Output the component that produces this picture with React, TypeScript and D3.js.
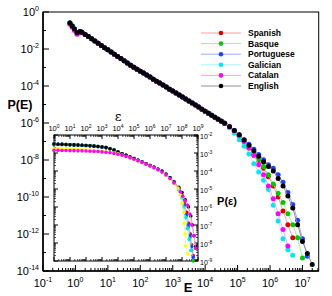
import React from "react";
import * as d3 from "d3";

// main panel: log10(E) bins and log10(P(E)) per language
const headE = [-0.17, -0.1, -0.03, 0.05, 0.14];
const bodyE = [0.2, 0.3, 0.4, 0.5, 0.6, 0.7, 0.8, 0.9, 1.0, 1.1, 1.2, 1.3, 1.4, 1.5, 1.6, 1.7, 1.8, 1.9, 2.0, 2.1, 2.2, 2.3, 2.4, 2.5, 2.6, 2.7, 2.8, 2.9, 3.0, 3.1, 3.2, 3.3, 3.4, 3.5, 3.6, 3.7, 3.8, 3.9, 4.0, 4.1, 4.2, 4.3, 4.4, 4.5, 4.6];
const tailE = [4.75, 4.9, 5.05, 5.2, 5.35, 5.5, 5.65, 5.8, 5.95, 6.1, 6.25, 6.4, 6.55, 6.7, 6.85, 7.0, 7.15, 7.3];

const headP = [-0.6, -0.76, -0.92, -1.12, -1.06];
const catalanHeadP = [-0.66, -0.83, -1.0, -1.2, -1.13];
const bodyP = [-1.1, -1.21, -1.33, -1.45, -1.57, -1.69, -1.81, -1.93, -2.04, -2.16, -2.28, -2.4, -2.52, -2.64, -2.76, -2.88, -2.98, -3.09, -3.2, -3.3, -3.41, -3.52, -3.63, -3.74, -3.84, -3.95, -4.06, -4.17, -4.27, -4.38, -4.49, -4.6, -4.7, -4.81, -4.92, -5.03, -5.14, -5.25, -5.36, -5.47, -5.58, -5.69, -5.8, -5.91, -6.02];

const spanishTail = [-6.22, -6.46, -6.72, -7.02, -7.35, -7.68, -8.05, -8.45, -8.9, -9.4, -10.0, -10.75, -11.5, -12.2];
const basqueTail = [-6.22, -6.45, -6.7, -7.0, -7.3, -7.6, -7.95, -8.35, -8.8, -9.3, -9.8, -10.3, -10.9, -11.5, -12.2, -13.3];
const portugueseTail = [-6.2, -6.4, -6.63, -6.9, -7.15, -7.42, -7.7, -7.98, -8.25, -8.45, -8.8, -9.2, -9.75, -10.4, -11.25, -12.25, -13.2];
const galicianTail = [-6.25, -6.55, -6.9, -7.25, -7.68, -8.2, -8.65, -9.1, -9.6, -10.45, -11.3, -12.25, -12.85, -13.15];
const catalanTail = [-6.18, -6.4, -6.68, -7.0, -7.35, -7.75, -8.25, -8.8, -9.4, -10.1, -10.9, -11.75, -12.65];
const englishTail = [-6.2, -6.4, -6.64, -6.92, -7.2, -7.5, -7.8, -8.1, -8.35, -8.6, -9.0, -9.4, -9.95, -10.6, -11.5, -12.4, -13.05, -13.65];

const languages = ["Spanish", "Basque", "Portuguese", "Galician", "Catalan", "English"];
const colors = ["#e00000", "#00c800", "#2040ff", "#00e8f0", "#ff00ff", "#000000"];
const lineColors = ["#f4a0a0", "#9ef09e", "#a0a8ff", "#a0f8ff", "#ffa0ff", "#909090"];

// inset: log10(eps) and log10(P(eps))
const insetGrid = [0, 0.25, 0.5, 0.75, 1.0, 1.25, 1.5, 1.75, 2.0, 2.25, 2.5, 2.75, 3.0, 3.25, 3.5, 3.75, 4.0, 4.25, 4.5, 4.75, 5.0, 5.25, 5.5, 5.75, 6.0, 6.25, 6.5, 6.75, 7.0, 7.25, 7.5];
const upperPlateau = [-2.5, -2.51, -2.52, -2.53, -2.54, -2.55, -2.56, -2.57, -2.58, -2.6, -2.62, -2.64, -2.67, -2.7, -2.76, -2.84, -2.95, -3.04, -3.13, -3.22, -3.31, -3.41, -3.5, -3.6, -3.7, -3.8, -3.9, -4.02, -4.18, -4.38, -4.62];
const yellowPlateau = [-2.75, -2.76, -2.77, -2.78, -2.79, -2.8, -2.81, -2.82, -2.83, -2.84, -2.86, -2.88, -2.9, -2.93, -2.96, -3.0, -3.05, -3.12, -3.2, -3.28, -3.36, -3.45, -3.54, -3.64, -3.74, -3.84, -3.95, -4.08, -4.24, -4.45, -4.7];
const magentaPlateau = [-2.85, -2.85, -2.86, -2.86, -2.87, -2.87, -2.88, -2.88, -2.89, -2.9, -2.91, -2.92, -2.94, -2.96, -2.99, -3.03, -3.07, -3.12, -3.19, -3.27, -3.35, -3.43, -3.52, -3.62, -3.72, -3.82, -3.93, -4.06, -4.22, -4.42, -4.66];

const insetTails: Record<string, [number, number][]> = {
  Spanish: [[7.8, -5.0], [8.0, -5.35], [8.15, -5.8], [8.3, -6.3], [8.42, -6.9], [8.52, -7.5], [8.6, -8.1], [8.7, -8.7]],
  Basque: [[7.8, -5.0], [8.0, -5.4], [8.15, -5.9], [8.28, -6.5], [8.4, -7.1], [8.5, -7.7], [8.6, -8.4], [8.7, -9.0]],
  Portuguese: [[7.8, -5.0], [8.0, -5.4], [8.12, -5.9], [8.25, -6.4], [8.37, -7.0], [8.5, -7.6], [8.6, -8.2], [8.7, -8.8]],
  Galician: [[7.8, -5.05], [7.98, -5.5], [8.1, -6.0], [8.22, -6.6], [8.33, -7.2], [8.45, -7.8], [8.55, -8.4]],
  English: [[7.8, -4.9], [8.0, -5.2], [8.2, -5.6], [8.4, -6.0], [8.55, -6.5], [8.65, -7.0], [8.75, -7.6], [8.85, -8.2]],
  Other: [[7.75, -4.95], [7.9, -5.35], [8.0, -5.8], [8.1, -6.3], [8.15, -6.9], [8.2, -7.5], [8.22, -8.15], [8.35, -8.6]],
  Catalan: [[7.9, -5.15], [8.05, -5.4], [8.2, -5.65], [8.35, -5.9], [8.5, -6.4], [8.62, -7.0], [8.75, -7.6], [8.85, -8.3]],
};

const mainXTicks = [-1, 0, 1, 2, 3, 4, 5, 6, 7];
const mainYTicks = [0, -2, -4, -6, -8, -10, -12, -14];
const insetXTicks = [0, 1, 2, 3, 4, 5, 6, 7, 8, 9];
const insetYTicks = [-2, -3, -4, -5, -6, -7, -8, -9];

const font = "'Liberation Sans', Arial, sans-serif";

function Pow({ x, y, exp, size, sup, anchor = "middle" }: any) {
  return (
    <text x={x} y={y} fontSize={size} textAnchor={anchor} fontFamily={font}>
      10<tspan fontSize={sup} dy={-size * 0.45}>{exp}</tspan>
    </text>
  );
}

export default function App() {
  const W = 332, H = 296;
  const x = d3.scaleLog().domain([1e-1, Math.pow(10, 7.5)]).range([43, 318.7]);
  const y = d3.scaleLog().domain([1e-14, 1]).range([271, 12]);
  const xi = d3.scaleLog().domain([1, 1e9]).range([54, 198]);
  const yi = d3.scaleLog().domain([1e-9, 1e-2]).range([261, 135]);
  const p = (v: number) => Math.pow(10, v);

  const logEGrid = headE.concat(bodyE, tailE);
  const tails = [spanishTail, basqueTail, portugueseTail, galicianTail, catalanTail, englishTail];
  const mainSeries = languages.map((name, i) => {
    const head = name === "Catalan" ? catalanHeadP : headP;
    const vals = head.concat(bodyP, tails[i]);
    return { name, color: colors[i], line: lineColors[i], pts: vals.map((v, k) => [logEGrid[k], v]) };
  });

  const insetOrder = [
    { key: "Spanish", color: colors[0], line: lineColors[0], plateau: upperPlateau },
    { key: "Basque", color: colors[1], line: lineColors[1], plateau: upperPlateau },
    { key: "Portuguese", color: colors[2], line: lineColors[2], plateau: upperPlateau },
    { key: "Galician", color: colors[3], line: lineColors[3], plateau: upperPlateau },
    { key: "English", color: colors[5], line: lineColors[5], plateau: upperPlateau },
    { key: "Other", color: "#ffff00", line: "#f0f080", plateau: yellowPlateau },
    { key: "Catalan", color: colors[4], line: lineColors[4], plateau: magentaPlateau },
  ].map((s) => ({
    ...s,
    pts: (s.plateau.map((v, k) => [insetGrid[k], v]) as [number, number][]).concat(insetTails[s.key]),
  }));

  const mainLine = d3.line<number[]>().x((d) => x(p(d[0]))).y((d) => y(p(d[1])));
  const insetLine = d3.line<number[]>().x((d) => xi(p(d[0]))).y((d) => yi(p(d[1])));

  const minor = (lo: number, hi: number) => {
    const out: number[] = [];
    for (let e = lo; e < hi; e++) for (let m = 2; m <= 9; m++) out.push(m * Math.pow(10, e));
    return out;
  };
  const mainMinorX = minor(-1, 8).filter((v) => v < x.domain()[1]);
  const insetMinorX = minor(0, 9);
  const insetMinorY = minor(-9, -2);

  return (
    <svg width={W} height={H} style={{ position: "absolute", left: 0, top: 0, background: "#fff" }}>
      {/* main frame */}
      <rect x={43} y={12} width={275.7} height={259} fill="none" stroke="#000" strokeWidth={1} />
      <line x1={43} x2={43} y1={12} y2={271} stroke="#000" strokeWidth={1.6} />
      <line x1={43} x2={318.7} y1={271} y2={271} stroke="#000" strokeWidth={1.6} />

      {mainXTicks.map((e) => (
        <g key={"mx" + e}>
          <line x1={x(p(e))} x2={x(p(e))} y1={271} y2={265} stroke="#000" />
          <Pow x={x(p(e))} y={287} exp={e} size={11} sup={7} />
        </g>
      ))}
      {mainMinorX.map((v, i) => (
        <line key={"mmx" + i} x1={x(v)} x2={x(v)} y1={271} y2={268} stroke="#000" />
      ))}
      {d3.range(0, -15, -1).map((e) => (
        <line key={"my" + e} x1={43} x2={e % 2 === 0 ? 49 : 46} y1={y(p(e))} y2={y(p(e))} stroke="#000" />
      ))}
      {mainYTicks.map((e) => (
        <Pow key={"myl" + e} x={39} y={y(p(e)) + 4} exp={e} size={11} sup={7} anchor="end" />
      ))}
      <text x={20} y={109} fontSize={12.5} fontWeight="bold" fontFamily={font} textAnchor="middle">P(E)</text>
      <text x={188} y={292} fontSize={13} fontWeight="bold" fontFamily={font} textAnchor="middle">E</text>

      {/* main series */}
      {mainSeries.map((s) => (
        <g key={s.name}>
          <path d={mainLine(s.pts) || ""} fill="none" stroke={s.line} strokeWidth={1} />
          {s.pts.map((d, k) => (
            <circle key={k} cx={x(p(d[0]))} cy={y(p(d[1]))} r={2.5} fill={s.color} />
          ))}
        </g>
      ))}

      {/* legend */}
      {languages.map((name, i) => {
        const ly = 33 + i * 10.6;
        return (
          <g key={"lg" + name}>
            <line x1={201} x2={241} y1={ly} y2={ly} stroke={lineColors[i]} strokeWidth={1} />
            <circle cx={221} cy={ly} r={2.3} fill={colors[i]} />
            <text x={248} y={ly + 3} fontSize={8.5} fontWeight="bold" fontFamily={font}>{name}</text>
          </g>
        );
      })}

      {/* inset */}
      <rect x={54} y={135} width={144} height={126} fill="#fff" stroke="#000" strokeWidth={1} />
      {insetXTicks.map((e) => (
        <g key={"ix" + e}>
          <line x1={xi(p(e))} x2={xi(p(e))} y1={135} y2={139} stroke="#000" />
          <line x1={xi(p(e))} x2={xi(p(e))} y1={261} y2={257} stroke="#000" />
          <Pow x={xi(p(e))} y={131} exp={e} size={7.5} sup={5} />
        </g>
      ))}
      {insetMinorX.map((v, i) => (
        <g key={"imx" + i}>
          <line x1={xi(v)} x2={xi(v)} y1={135} y2={137} stroke="#000" strokeWidth={0.7} />
          <line x1={xi(v)} x2={xi(v)} y1={261} y2={259} stroke="#000" strokeWidth={0.7} />
        </g>
      ))}
      {insetYTicks.map((e) => (
        <g key={"iy" + e}>
          <line x1={198} x2={194} y1={yi(p(e))} y2={yi(p(e))} stroke="#000" />
          <line x1={54} x2={58} y1={yi(p(e))} y2={yi(p(e))} stroke="#000" />
          <Pow x={200} y={yi(p(e)) + 4} exp={e} size={7} sup={4.8} anchor="start" />
        </g>
      ))}
      {insetMinorY.map((v, i) => (
        <g key={"imy" + i}>
          <line x1={198} x2={196} y1={yi(v)} y2={yi(v)} stroke="#000" strokeWidth={0.7} />
          <line x1={54} x2={56} y1={yi(v)} y2={yi(v)} stroke="#000" strokeWidth={0.7} />
        </g>
      ))}
      <text x={118} y={121} fontSize={13} fontFamily="'DejaVu Serif', serif" textAnchor="middle">ε</text>
      <text x={227} y={205} fontSize={11} fontWeight="bold" fontFamily={font} textAnchor="middle">P(ε)</text>

      {insetOrder.map((s) => (
        <g key={"is" + s.key}>
          <path d={insetLine(s.pts) || ""} fill="none" stroke={s.line} strokeWidth={0.8} />
          {s.pts.map((d, k) => (
            <circle key={k} cx={xi(p(d[0]))} cy={yi(p(d[1]))} r={1.8} fill={s.color} />
          ))}
        </g>
      ))}
    </svg>
  );
}
